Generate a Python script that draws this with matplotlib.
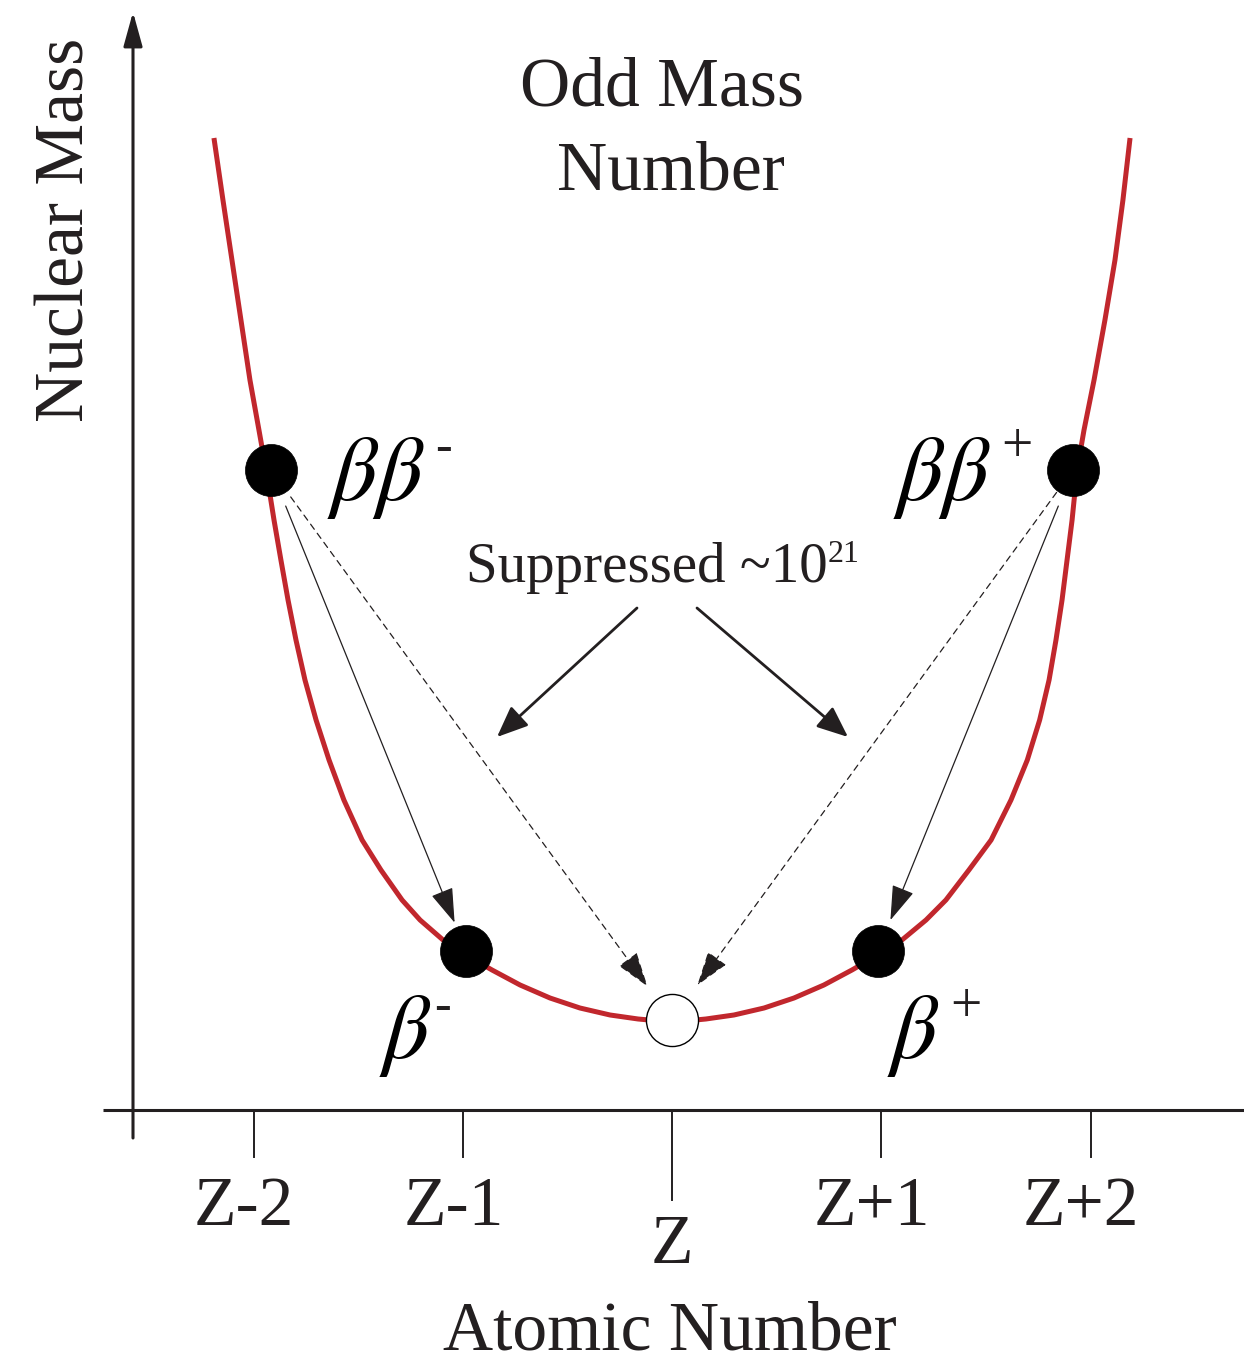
import matplotlib
matplotlib.use("Agg")
import matplotlib.pyplot as plt

# ---------------- data ----------------
curve_z = [-2.189, -2.146, -2.103, -2.060, -2.017, -1.974, -1.940, -1.902, -1.869,
           -1.835, -1.797, -1.754, -1.701, -1.639, -1.568, -1.481, -1.391, -1.290,
           -1.204, -1.094, -0.984, -0.860, -0.726, -0.583, -0.440, -0.296, -0.162,
           -0.057, 0.0,
           0.062, 0.162, 0.296, 0.440, 0.583, 0.726, 0.860, 0.984, 1.099, 1.214,
           1.309, 1.419, 1.525, 1.620, 1.698, 1.757, 1.802, 1.835, 1.864, 1.888,
           1.912, 1.936, 1.969, 2.017, 2.069, 2.117, 2.155, 2.189]
curve_mass = [9.72, 9.10, 8.50, 7.90, 7.30, 6.80, 6.40, 5.90, 5.50,
              5.10, 4.70, 4.30, 3.90, 3.50, 3.10, 2.70, 2.40, 2.10,
              1.90, 1.70, 1.55, 1.40, 1.25, 1.12, 1.02, 0.95, 0.91,
              0.89, 0.88,
              0.89, 0.91, 0.95, 1.02, 1.12, 1.25, 1.40, 1.55, 1.70, 1.90,
              2.10, 2.40, 2.70, 3.10, 3.50, 3.90, 4.30, 4.70, 5.10, 5.50,
              5.90, 6.40, 6.80, 7.30, 7.90, 8.50, 9.10, 9.72]

tick_pos = [-2, -1, 0, 1, 2]
tick_labels = ["Z-2", "Z-1", "Z", "Z+1", "Z+2"]

nuclide_z = [-1.916, -0.984, 0.0, 0.984, 1.916]
nuclide_mass = [6.40, 1.59, 0.90, 1.59, 6.40]
nuclide_filled = [True, True, False, True, True]

decay_base = ["\u03b2\u03b2", "\u03b2", "", "\u03b2", "\u03b2\u03b2"]
decay_sup = ["-", "-", "", "+", "+"]

xlabel = "Atomic Number"
ylabel = "Nuclear Mass"
suppressed_text = "Suppressed ~10"
suppressed_exp = "21"

# ---------------- layout helpers ----------------
W, H = 1244, 1366
X0, XS = 672.0, 209.25   # pixel of Z, pixels per unit Z
Y0, YS = 1110.0, 100.0   # pixel of x-axis, pixels per mass unit


def P(px, py):
    return ((px - X0) / XS, (Y0 - py) / YS)


RED = "#c1272d"
INK = "#231f20"
SERIF = ["Liberation Serif", "DejaVu Serif"]
GREEK = ["STIXGeneral", "Liberation Serif", "DejaVu Serif"]

fig = plt.figure(figsize=(W / 100, H / 100), dpi=100)
ax = fig.add_axes([0, 0, 1, 1])
ax.set_xlim(P(0, 0)[0], P(W, 0)[0])
ax.set_ylim(P(0, H)[1], P(0, 0)[1])
ax.axis("off")

# axes
xa0, xa1 = P(103, 0)[0], P(W, 0)[0]
ax.plot([xa0, xa1], [0, 0], color=INK, lw=2.2, solid_capstyle="butt", zorder=2)
yx = P(133, 0)[0]
ax.annotate("", xy=(yx, P(0, 12)[1]), xytext=(yx, P(0, 1138)[1]),
            arrowprops=dict(arrowstyle="-|>,head_length=2.1,head_width=0.58",
                            mutation_scale=10, lw=2.2, color=INK,
                            shrinkA=0, shrinkB=0), zorder=2)

# ticks and labels
for t, lab in zip(tick_pos, tick_labels):
    bottom = P(0, 1200)[1] if lab == "Z" else P(0, 1157)[1]
    ax.plot([t, t], [0, bottom], color=INK, lw=1.4, zorder=2)
    if lab == "Z":
        ax.text(t, P(0, 1263)[1], lab, ha="center", va="baseline",
                fontsize=50, family=SERIF, color=INK)
    else:
        ax.text(t - 0.045, P(0, 1225)[1], lab, ha="center", va="baseline",
                fontsize=50, family=SERIF, color=INK)

# curve
ax.plot(curve_z, curve_mass, color=RED, lw=3.6, zorder=3,
        solid_joinstyle="round", solid_capstyle="butt")

# nuclides
for z, m, f in zip(nuclide_z, nuclide_mass, nuclide_filled):
    ax.plot(z, m, "o", ms=37.5, mfc="black" if f else "white",
            mec="black", mew=1.0 if not f else 0.5, zorder=5)


# decay arrows (solid: single beta; dashed: double beta)
def decay_arrow(i, j, sA, sB, ls):
    ax.annotate("", xy=(nuclide_z[j], nuclide_mass[j]),
                xytext=(nuclide_z[i], nuclide_mass[i]),
                arrowprops=dict(arrowstyle="-|>,head_length=2.2,head_width=0.72",
                                mutation_scale=10, lw=0.9, color=INK,
                                linestyle=ls, shrinkA=sA, shrinkB=sB),
                zorder=4)


decay_arrow(0, 1, 28, 22, "-")
decay_arrow(4, 3, 28, 24, "-")
decay_arrow(0, 2, 24, 30, (0, (5, 4)))
decay_arrow(4, 2, 20, 31, (0, (5, 4)))

# labels for decays
lab_pos = [(331, 500), (383, 1058), None, (891, 1058), (897, 500)]
sup_pos = [(435, 461), (434, 1020), None, (950, 1022), (1001, 462)]
for k in range(5):
    if not decay_base[k]:
        continue
    ax.text(*P(*lab_pos[k]), decay_base[k], ha="left", va="baseline",
            fontsize=66, family=GREEK, style="italic", color="black", zorder=6)
    ax.text(*P(*sup_pos[k]), decay_sup[k], ha="left", va="baseline",
            fontsize=40 if decay_sup[k] == "+" else 36, family=SERIF,
            color=INK, zorder=6)

# suppressed annotation
ax.text(*P(466, 582), suppressed_text, ha="left", va="baseline",
        fontsize=41, family=SERIF, color=INK)
ax.text(*P(828, 562), suppressed_exp, ha="left", va="baseline",
        fontsize=23, family=SERIF, color=INK)
for (sx, sy), (tx, ty) in [((637, 608), (497, 737)), ((697, 608), (848, 737))]:
    ax.annotate("", xy=P(tx, ty), xytext=P(sx, sy),
                arrowprops=dict(arrowstyle="-|>,head_length=1.9,head_width=0.8",
                                mutation_scale=10, lw=2.0, color=INK,
                                shrinkA=0, shrinkB=0))

# titles
ax.text(*P(662, 105), "Odd Mass", ha="center", va="baseline", fontsize=50,
        family=SERIF, color=INK)
ax.text(*P(671, 190), "Number", ha="center", va="baseline", fontsize=50,
        family=SERIF, color=INK)
ax.text(*P(670, 1350), xlabel, ha="center", va="baseline", fontsize=50,
        family=SERIF, color=INK)
ax.text(*P(84, 230), ylabel, ha="center", va="baseline", rotation=90,
        fontsize=50, family=SERIF, color=INK, rotation_mode="anchor")

fig.savefig("out.png", dpi=100)
